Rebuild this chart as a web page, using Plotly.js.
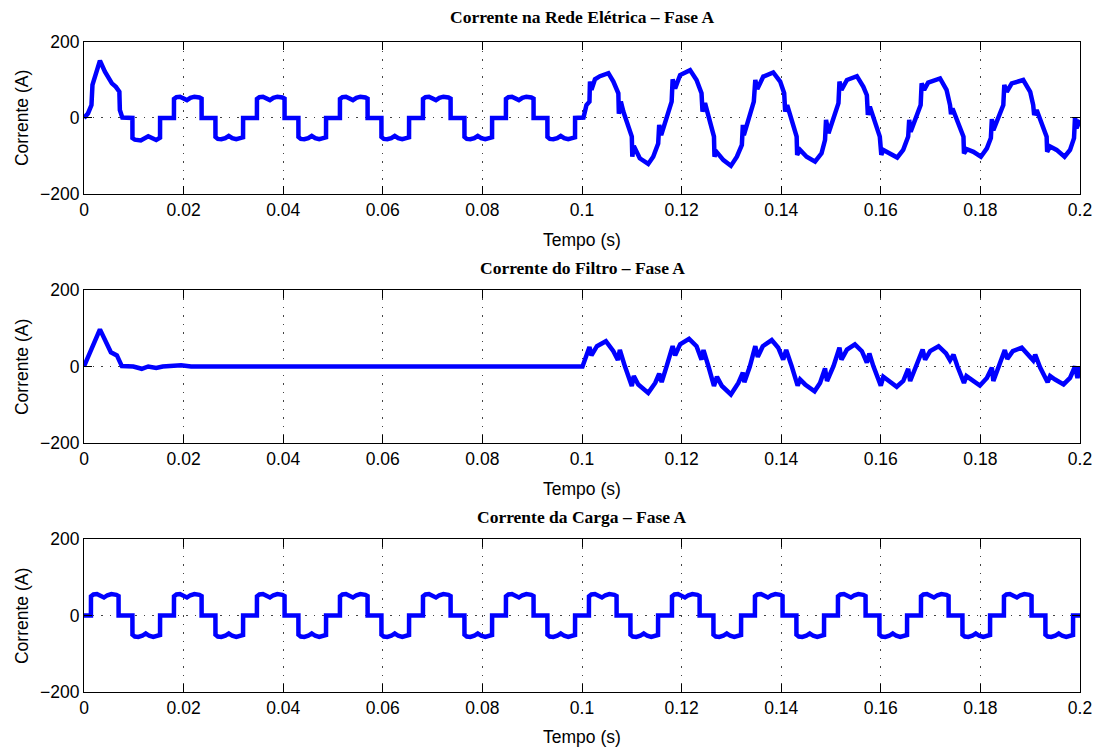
<!DOCTYPE html>
<html>
<head>
<meta charset="utf-8">
<script src="https://cdn.plot.ly/plotly-3.0.1.min.js"></script>
<style>html,body{margin:0;padding:0;background:#fff;}#chart{width:1099px;height:751px;}</style>
</head>
<body>
<div id="chart"></div>
<script>
// ---------- Data (time in seconds, current in amperes) ----------
const xTicks = [0, 0.02, 0.04, 0.06, 0.08, 0.1, 0.12, 0.14, 0.16, 0.18, 0.2];
const xTickLabels = ['0', '0.02', '0.04', '0.06', '0.08', '0.1', '0.12', '0.14', '0.16', '0.18', '0.2'];
const yTicks = [-200, 0, 200];
const yTickLabels = ['\u2212200', '0', '200'];

const titles = ['Corrente na Rede Elétrica – Fase A', 'Corrente do Filtro – Fase A', 'Corrente da Carga – Fase A'];
const xLabel = 'Tempo (s)';
const yLabel = 'Corrente (A)';

// Load current (Corrente da Carga)
const loadT = [0,
 0.00139,0.0014,0.0019,0.0026,0.0033,0.004,0.0047,0.0055,0.0065,0.00694,0.00695,0.00972,0.00973,0.0102,0.0109,0.0117,0.0124,0.0131,0.0139,0.0148,0.01527,0.01528,
 0.01806,0.01807,0.01857,0.01927,0.01997,0.02067,0.02137,0.02217,0.02317,0.02361,0.02362,0.02639,0.0264,0.02687,0.02757,0.02837,0.02907,0.02977,0.03057,0.03147,0.03194,0.03195,
 0.03472,0.03473,0.03523,0.03593,0.03663,0.03733,0.03803,0.03883,0.03983,0.04027,0.04028,0.04305,0.04306,0.04353,0.04423,0.04503,0.04573,0.04643,0.04723,0.04813,0.0486,0.04861,
 0.05139,0.0514,0.0519,0.0526,0.0533,0.054,0.0547,0.0555,0.0565,0.05694,0.05695,0.05972,0.05973,0.0602,0.0609,0.0617,0.0624,0.0631,0.0639,0.0648,0.06527,0.06528,
 0.06806,0.06807,0.06857,0.06927,0.06997,0.07067,0.07137,0.07217,0.07317,0.07361,0.07362,0.07639,0.0764,0.07687,0.07757,0.07837,0.07907,0.07977,0.08057,0.08147,0.08194,0.08195,
 0.08472,0.08473,0.08523,0.08593,0.08663,0.08733,0.08803,0.08883,0.08983,0.09027,0.09028,0.09305,0.09306,0.09353,0.09423,0.09503,0.09573,0.09643,0.09723,0.09813,0.0986,0.09861,
 0.10139,0.1014,0.1019,0.1026,0.1033,0.104,0.1047,0.1055,0.1065,0.10694,0.10695,0.10972,0.10973,0.1102,0.1109,0.1117,0.1124,0.1131,0.1139,0.1148,0.11527,0.11528,
 0.11806,0.11807,0.11857,0.11927,0.11997,0.12067,0.12137,0.12217,0.12317,0.12361,0.12362,0.12639,0.1264,0.12687,0.12757,0.12837,0.12907,0.12977,0.13057,0.13147,0.13194,0.13195,
 0.13472,0.13473,0.13523,0.13593,0.13663,0.13733,0.13803,0.13883,0.13983,0.14027,0.14028,0.14305,0.14306,0.14353,0.14423,0.14503,0.14573,0.14643,0.14723,0.14813,0.1486,0.14861,
 0.15139,0.1514,0.1519,0.1526,0.1533,0.154,0.1547,0.1555,0.1565,0.15694,0.15695,0.15972,0.15973,0.1602,0.1609,0.1617,0.1624,0.1631,0.1639,0.1648,0.16527,0.16528,
 0.16806,0.16807,0.16857,0.16927,0.16997,0.17067,0.17137,0.17217,0.17317,0.17361,0.17362,0.17639,0.1764,0.17687,0.17757,0.17837,0.17907,0.17977,0.18057,0.18147,0.18194,0.18195,
 0.18472,0.18473,0.18523,0.18593,0.18663,0.18733,0.18803,0.18883,0.18983,0.19027,0.19028,0.19305,0.19306,0.19353,0.19423,0.19503,0.19573,0.19643,0.19723,0.19813,0.1986,0.19861,
 0.2];
const loadI = [0,
 0,50,55,56,53,47,53,56,54,51,0,0,-50,-55,-56,-53,-47,-53,-56,-54,-51,0,
 0,50,55,56,53,47,53,56,54,51,0,0,-50,-55,-56,-53,-47,-53,-56,-54,-51,0,
 0,50,55,56,53,47,53,56,54,51,0,0,-50,-55,-56,-53,-47,-53,-56,-54,-51,0,
 0,50,55,56,53,47,53,56,54,51,0,0,-50,-55,-56,-53,-47,-53,-56,-54,-51,0,
 0,50,55,56,53,47,53,56,54,51,0,0,-50,-55,-56,-53,-47,-53,-56,-54,-51,0,
 0,50,55,56,53,47,53,56,54,51,0,0,-50,-55,-56,-53,-47,-53,-56,-54,-51,0,
 0,50,55,56,53,47,53,56,54,51,0,0,-50,-55,-56,-53,-47,-53,-56,-54,-51,0,
 0,50,55,56,53,47,53,56,54,51,0,0,-50,-55,-56,-53,-47,-53,-56,-54,-51,0,
 0,50,55,56,53,47,53,56,54,51,0,0,-50,-55,-56,-53,-47,-53,-56,-54,-51,0,
 0,50,55,56,53,47,53,56,54,51,0,0,-50,-55,-56,-53,-47,-53,-56,-54,-51,0,
 0,50,55,56,53,47,53,56,54,51,0,0,-50,-55,-56,-53,-47,-53,-56,-54,-51,0,
 0,50,55,56,53,47,53,56,54,51,0,0,-50,-55,-56,-53,-47,-53,-56,-54,-51,0,
 0];

// Grid current (Corrente na Rede Elétrica)
const gridT = [0,0.0008,0.0015,0.0017,0.0032,0.0042,0.0056,0.0064,0.0071,0.0072,0.0077,
 0.00972,0.00973,0.0102,0.0114,0.0129,0.0145,0.0149,0.01527,0.01528,
 0.01806,0.01807,0.01857,0.01927,0.01997,0.02067,0.02137,0.02217,0.02317,0.02361,0.02362,0.02639,0.0264,0.02687,0.02757,0.02837,0.02907,0.02977,0.03057,0.03147,0.03194,0.03195,
 0.03472,0.03473,0.03523,0.03593,0.03663,0.03733,0.03803,0.03883,0.03983,0.04027,0.04028,0.04305,0.04306,0.04353,0.04423,0.04503,0.04573,0.04643,0.04723,0.04813,0.0486,0.04861,
 0.05139,0.0514,0.0519,0.0526,0.0533,0.054,0.0547,0.0555,0.0565,0.05694,0.05695,0.05972,0.05973,0.0602,0.0609,0.0617,0.0624,0.0631,0.0639,0.0648,0.06527,0.06528,
 0.06806,0.06807,0.06857,0.06927,0.06997,0.07067,0.07137,0.07217,0.07317,0.07361,0.07362,0.07639,0.0764,0.07687,0.07757,0.07837,0.07907,0.07977,0.08057,0.08147,0.08194,0.08195,
 0.08472,0.08473,0.08523,0.08593,0.08663,0.08733,0.08803,0.08883,0.08983,0.09027,0.09028,0.09305,0.09306,0.09353,0.09423,0.09503,0.09573,0.09643,0.09723,0.09813,0.0986,0.09861,
 0.1003,0.1009,0.1015,0.1016,0.1019,0.1026,0.1036,0.1053,0.1063,0.1073,0.1074,0.1078,0.1083,
 0.1100,0.1101,0.1104,0.1116,0.1133,0.1143,0.1153,0.1155,0.1159,
 0.1180,0.1182,0.1187,0.1197,0.1217,0.1230,0.1240,0.1242,0.1247,
 0.1265,0.1266,0.1270,0.1284,0.1299,0.1311,0.1321,0.1323,0.1325,
 0.1345,0.1348,0.1352,0.1364,0.1384,0.1398,0.1406,0.1408,0.1412,
 0.1431,0.1432,0.1438,0.1451,0.1468,0.1481,0.1488,0.1490,0.1495,
 0.1515,0.1517,0.1521,0.1532,0.1552,0.1565,0.1572,0.1574,0.1578,
 0.1598,0.1601,0.1605,0.1619,0.1633,0.1645,0.1655,0.1657,0.1660,
 0.1680,0.1682,0.1687,0.1695,0.1719,0.1732,0.1739,0.1741,0.1744,
 0.1766,0.1767,0.1773,0.1786,0.1801,0.1813,0.1821,0.1823,0.1826,
 0.1846,0.1848,0.1853,0.1863,0.1886,0.1900,0.1906,0.1908,0.1913,
 0.1933,0.1934,0.1940,0.1953,0.1969,0.1980,0.1988,0.1990,0.1993,0.2000];
const gridI = [0,12,34,87,151,122,91,82,69,21,1,
 0,-53,-57,-59,-48,-58,-56,-52,0,
 0,50,55,56,53,47,53,56,54,51,0,0,-50,-55,-56,-53,-47,-53,-56,-54,-51,0,
 0,50,55,56,53,47,53,56,54,51,0,0,-50,-55,-56,-53,-47,-53,-56,-54,-51,0,
 0,50,55,56,53,47,53,56,54,51,0,0,-50,-55,-56,-53,-47,-53,-56,-54,-51,0,
 0,50,55,56,53,47,53,56,54,51,0,0,-50,-55,-56,-53,-47,-53,-56,-54,-51,0,
 0,50,55,56,53,47,53,56,54,51,0,0,-50,-55,-56,-53,-47,-53,-56,-54,-51,0,
 1,34,43,96,74,102,110,118,96,65,11,43,17,
 -49,-102,-74,-106,-121,-102,-67,-18,-45,
 43,102,78,113,126,100,65,17,39,
 -49,-102,-89,-111,-126,-102,-71,-18,-45,
 43,100,76,109,120,96,65,17,34,
 -49,-97,-84,-102,-115,-93,-58,-5,-40,
 39,96,74,100,110,82,60,8,30,
 -49,-97,-84,-93,-104,-84,-49,-5,-36,
 34,91,74,93,104,74,34,10,25,
 -49,-93,-82,-89,-102,-80,-53,-3,-32,
 34,87,69,91,100,69,34,8,21,
 -49,-89,-75,-84,-102,-84,-53,2,-27,-5];

// Filter current (Corrente do Filtro)
const filtT = [0,0.0032,0.0054,0.0066,0.0076,0.0099,0.0116,0.0129,0.0145,0.0158,0.0195,0.0215,0.1001,
 0.1006,0.1015,0.1019,0.1030,0.1048,0.1063,0.1072,0.1076,0.1086,
 0.1100,0.1104,0.1113,0.1133,0.1147,0.1155,0.1160,0.1170,
 0.1182,0.1187,0.1197,0.1215,0.1230,0.1240,0.1244,0.1254,
 0.1265,0.1271,0.1281,0.1299,0.1314,0.1323,0.1326,0.1337,
 0.1348,0.1353,0.1363,0.1381,0.1394,0.1404,0.1410,0.1421,
 0.1433,0.1438,0.1448,0.1467,0.1478,0.1488,0.1492,0.1505,
 0.1517,0.1521,0.1532,0.1548,0.1562,0.1572,0.1577,0.1585,
 0.1600,0.1605,0.1615,0.1632,0.1645,0.1655,0.1659,0.1672,
 0.1684,0.1689,0.1699,0.1716,0.1731,0.1739,0.1746,0.1754,
 0.1767,0.1772,0.1782,0.1799,0.1813,0.1823,0.1826,0.1839,
 0.1849,0.1854,0.1865,0.1883,0.1896,0.1906,0.1910,0.1920,
 0.1935,0.1940,0.1950,0.1967,0.1980,0.1990,0.1995,0.2000];
const filtI = [0,97,37,29,1,0,-6,0,-4,0,3,0,0,
 18,51,29,53,66,40,17,43,1,
 -51,-25,-47,-69,-43,-19,-41,1,
 53,29,58,72,53,18,43,0,
 -51,-27,-51,-73,-43,-16,-41,0,
 53,25,53,69,49,18,43,1,
 -50,-34,-47,-65,-43,-5,-38,1,
 49,18,44,58,40,10,34,1,
 -50,-27,-38,-53,-38,-6,-38,5,
 44,18,40,53,34,16,31,0,
 -43,-25,-34,-50,-30,-3,-38,5,
 43,20,40,49,31,16,31,-3,
 -41,-25,-34,-47,-30,0,-30,0];

// ---------- Plot ----------
const lineStyle = {color: '#0000FF', width: 4.5};
const traces = [
  {x: gridT, y: gridI, xaxis: 'x', yaxis: 'y', type: 'scatter', mode: 'lines', line: lineStyle, hoverinfo: 'skip'},
  {x: filtT, y: filtI, xaxis: 'x2', yaxis: 'y2', type: 'scatter', mode: 'lines', line: lineStyle, hoverinfo: 'skip'},
  {x: loadT, y: loadI, xaxis: 'x3', yaxis: 'y3', type: 'scatter', mode: 'lines', line: lineStyle, hoverinfo: 'skip'}
];

const tickFont = {family: 'Liberation Sans, Arial, sans-serif', size: 17.5, color: '#000'};
function xAxis(anchor) {
  return {anchor: anchor, domain: [0, 1], range: [0, 0.2], tickmode: 'array', tickvals: xTicks, ticktext: xTickLabels,
    ticks: 'inside', ticklen: 8, tickwidth: 1, tickcolor: '#000', showline: true, linecolor: '#000', linewidth: 1,
    mirror: 'ticks', showgrid: true, gridcolor: '#444', gridwidth: 1, griddash: '1.5px,7px', zeroline: false,
    tickfont: tickFont, fixedrange: true};
}
function yAxis(anchor, dom) {
  return {anchor: anchor, domain: dom, range: [-200, 200], tickmode: 'array', tickvals: yTicks, ticktext: yTickLabels,
    ticks: 'inside', ticklen: 8, tickwidth: 1, tickcolor: '#000', showline: true, linecolor: '#000', linewidth: 1,
    mirror: 'ticks', showgrid: true, gridcolor: '#444', gridwidth: 1, griddash: '1.5px,7px', zeroline: false,
    tickfont: tickFont, fixedrange: true};
}

const titleFont = {family: 'Liberation Serif, Times New Roman, serif', size: 17.5, color: '#000'};
const labelFont = {family: 'Liberation Sans, Arial, sans-serif', size: 17.5, color: '#000'};
const titleY = [1.0385, 0.6523, 0.2692];
const xLabelY = [0.6954, 0.3123, -0.0692];
const yLabelY = [0.8831, 0.5, 0.1169];
const annotations = [];
for (let i = 0; i < 3; i++) {
  annotations.push({text: '<b>' + titles[i] + '</b>', xref: 'paper', yref: 'paper', x: 0.5, y: titleY[i],
    xanchor: 'center', yanchor: 'middle', showarrow: false, font: titleFont});
  annotations.push({text: xLabel, xref: 'paper', yref: 'paper', x: 0.5, y: xLabelY[i],
    xanchor: 'center', yanchor: 'middle', showarrow: false, font: labelFont});
  annotations.push({text: yLabel, xref: 'paper', yref: 'paper', x: -0.0622, y: yLabelY[i], textangle: -90,
    xanchor: 'center', yanchor: 'middle', showarrow: false, font: labelFont});
}

const layout = {
  width: 1099, height: 751,
  margin: {l: 84, r: 19, t: 42, b: 59, pad: 0},
  paper_bgcolor: '#fff', plot_bgcolor: '#fff',
  showlegend: false,
  font: labelFont,
  xaxis: xAxis('y'), yaxis: yAxis('x', [0.7662, 1]),
  xaxis2: xAxis('y2'), yaxis2: yAxis('x2', [0.3831, 0.6185]),
  xaxis3: xAxis('y3'), yaxis3: yAxis('x3', [0, 0.2354]),
  annotations: annotations
};

Plotly.newPlot('chart', traces, layout, {displayModeBar: false, staticPlot: true});
</script>
</body>
</html>
